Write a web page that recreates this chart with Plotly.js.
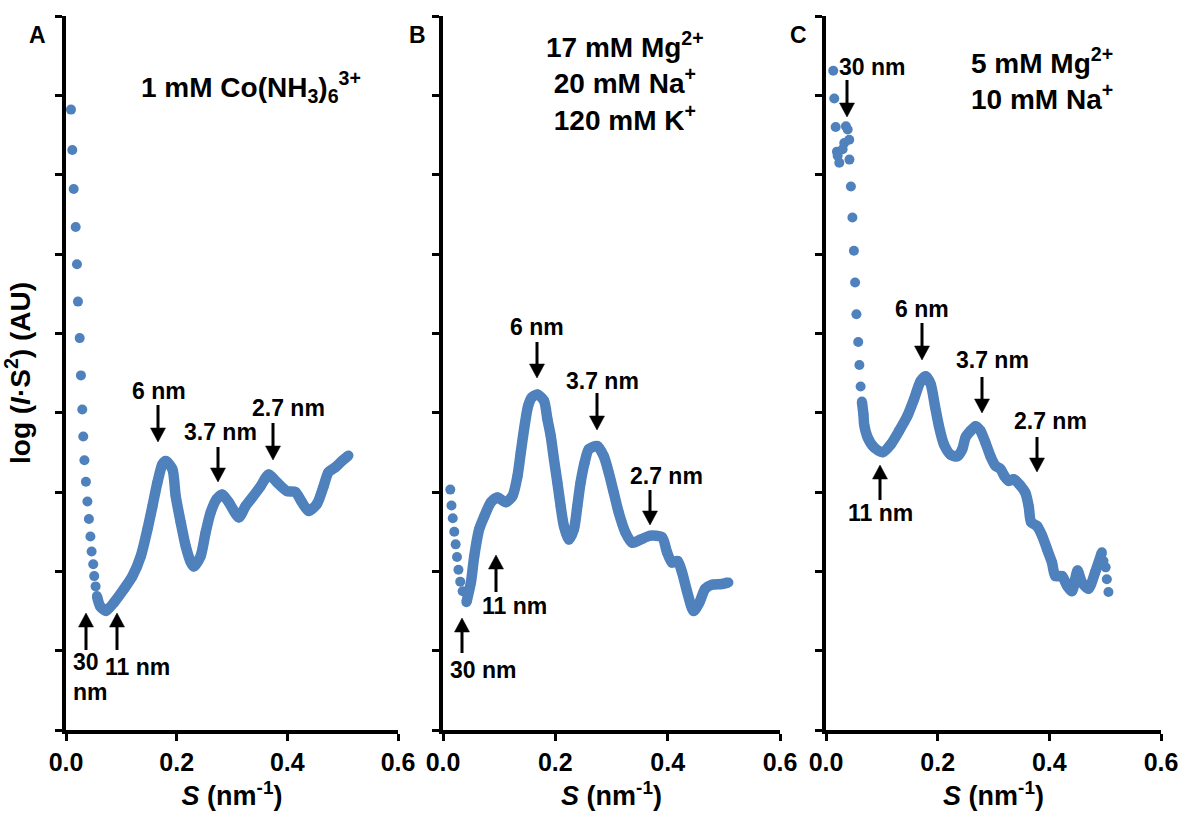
<!DOCTYPE html>
<html><head><meta charset="utf-8">
<script src="https://cdn.plot.ly/plotly-3.0.1.min.js"></script>
<style>html,body{margin:0;padding:0;background:#fff}#chart{width:1181px;height:817px}</style>
</head><body><div id="chart"></div>
<script>
// ---------- data (S in nm^-1, log(I*S^2) in arbitrary units) ----------
const xTickVals = [0, 0.2, 0.4, 0.6];
const xTickLabels = ['0.0', '0.2', '0.4', '0.6'];
const yTickVals = [0, 1, 2, 3, 4, 5, 6, 7, 8, 9];

// Panel A: 1 mM Co(NH3)6 3+
const aLowS = [0.009,0.0114,0.0139,0.0175,0.0198,0.0216,0.0247,0.0270,0.0294,0.0312,0.0333,0.0360,0.0387,0.0414,0.0441,0.0463,0.0492,0.0510,0.0535];
const aLowI = [7.82,7.31,6.82,6.34,5.87,5.40,4.94,4.47,4.04,3.70,3.40,3.13,2.88,2.66,2.44,2.25,2.09,1.94,1.81];
const aS = [0.0559,0.0618,0.0721,0.0870,0.1050,0.1202,0.1351,0.1472,0.1562,0.1652,0.1742,0.1802,0.1922,0.1982,0.2072,0.2162,0.2252,0.2312,0.2432,0.2523,0.2613,0.2721,0.2823,0.2942,0.3123,0.3243,0.3364,0.3514,0.3663,0.3814,0.3995,0.4144,0.4265,0.4384,0.4535,0.4654,0.4744,0.4865,0.4986,0.5105];
const aI = [1.69,1.56,1.50,1.61,1.78,1.94,2.19,2.53,2.82,3.12,3.35,3.39,3.29,2.95,2.62,2.32,2.12,2.06,2.19,2.49,2.74,2.91,2.97,2.87,2.68,2.82,2.93,3.07,3.22,3.12,3.01,3.00,2.87,2.76,2.85,3.07,3.25,3.31,3.39,3.46];

// Panel B: 17 mM Mg2+, 20 mM Na+, 120 mM K+
const bLowS = [0.0130,0.0151,0.0174,0.0201,0.0225,0.0249,0.0275,0.0307,0.0350];
const bLowI = [3.03,2.83,2.67,2.50,2.34,2.18,2.02,1.87,1.75];
const bS = [0.0417,0.0497,0.0556,0.0644,0.0733,0.0852,0.0971,0.1118,0.1237,0.1326,0.1385,0.1443,0.1514,0.1580,0.1681,0.1798,0.1858,0.1917,0.1976,0.2036,0.2095,0.2153,0.2242,0.2331,0.2391,0.2450,0.2521,0.2597,0.2746,0.2863,0.2952,0.3041,0.3129,0.3248,0.3367,0.3515,0.3692,0.3900,0.3989,0.4077,0.4177,0.4255,0.4344,0.4461,0.4567,0.4668,0.4787,0.4965,0.5082];
const bI = [1.61,1.86,2.19,2.53,2.69,2.87,2.93,2.87,2.95,3.20,3.50,3.79,4.08,4.19,4.23,4.15,3.92,3.71,3.41,3.12,2.82,2.57,2.40,2.53,2.82,3.12,3.37,3.54,3.58,3.45,3.24,2.99,2.74,2.49,2.36,2.40,2.45,2.43,2.24,2.11,2.13,1.99,1.75,1.50,1.61,1.78,1.83,1.84,1.86];

// Panel C: 5 mM Mg2+, 10 mM Na+
const cLowS = [0.0130,0.0148,0.0173,0.0196,0.0209,0.0238,0.0298,0.0327,0.0357,0.0388,0.0416,0.0420,0.0446,0.0473,0.0500,0.0521,0.0545,0.0577,0.0598,0.0620];
const cLowI = [8.31,7.96,7.60,7.29,7.24,7.15,7.32,7.40,7.61,7.57,7.44,7.19,6.85,6.46,6.04,5.64,5.24,4.89,4.60,4.33];
const cS = [0.0643,0.0670,0.0684,0.0745,0.0863,0.1012,0.1161,0.1309,0.1459,0.1577,0.1696,0.1786,0.1875,0.1952,0.2023,0.2112,0.2232,0.2352,0.2441,0.2500,0.2589,0.2679,0.2768,0.2857,0.2946,0.3036,0.3125,0.3196,0.3273,0.3363,0.3482,0.3571,0.3630,0.3673,0.3780,0.3870,0.3959,0.4048,0.4107,0.4227,0.4316,0.4405,0.4505,0.4584,0.4702,0.4821,0.4941];
const cI = [4.14,3.98,3.85,3.69,3.56,3.50,3.60,3.77,3.96,4.17,4.40,4.46,4.36,4.08,3.83,3.60,3.47,3.45,3.54,3.69,3.77,3.83,3.77,3.62,3.45,3.33,3.29,3.20,3.14,3.16,3.08,2.99,2.82,2.62,2.57,2.45,2.28,2.11,1.94,1.94,1.82,1.75,2.01,1.86,1.78,1.99,2.24];
const cEndS = [0.4970,0.5009,0.5030,0.5059];
const cEndI = [2.13,2.05,1.90,1.74];

// ---------- styling ----------
const FONT = 'Liberation Sans, Arial, Helvetica, sans-serif';
const BLUE = 'rgb(79,129,189)';
const W = 1181, H = 817;
const px = v => v / W, py = v => 1 - v / H;

function dots(xs, ys, xa, ya) {
  return {x: xs, y: ys, xaxis: xa, yaxis: ya, type: 'scatter', mode: 'markers',
    marker: {color: BLUE, size: 10}, hoverinfo: 'skip', showlegend: false, cliponaxis: false};
}
function band(xs, ys, xa, ya) {
  return {x: xs, y: ys, xaxis: xa, yaxis: ya, type: 'scatter', mode: 'lines+markers',
    line: {color: BLUE, width: 10.5, shape: 'spline', smoothing: 0.7},
    marker: {color: BLUE, size: 10}, hoverinfo: 'skip', showlegend: false, cliponaxis: false};
}

const data = [
  dots(aLowS, aLowI, 'x', 'y'), band(aS, aI, 'x', 'y'),
  dots(bLowS, bLowI, 'x2', 'y2'), band(bS, bI, 'x2', 'y2'),
  dots(cLowS, cLowI, 'x3', 'y3'), band(cS, cI, 'x3', 'y3'), dots(cEndS, cEndI, 'x3', 'y3')
];

const yDom = [(H - 730) / H, (H - 16) / H];
function xax(l, r, anchor) {
  return {domain: [px(l), px(r)], anchor: anchor, range: [0, 0.6],
    tickmode: 'array', tickvals: xTickVals, ticktext: xTickLabels,
    ticks: 'outside', ticklen: 7, tickwidth: 3, tickcolor: '#000',
    showline: true, linewidth: 4, linecolor: '#000', showgrid: false, zeroline: false,
    fixedrange: true, ticklabelstandoff: 0,
    tickfont: {family: FONT, size: 25, color: '#000', weight: 'bold'},
    title: {text: '<i>S</i> (nm<sup>-1</sup>)', standoff: 12,
      font: {family: FONT, size: 27, color: '#000', weight: 'bold'}}};
}
function yax(anchor, title) {
  const o = {domain: yDom, anchor: anchor, range: [0, 9],
    tickmode: 'array', tickvals: yTickVals, showticklabels: false,
    ticks: 'outside', ticklen: 7, tickwidth: 3, tickcolor: '#000',
    showline: true, linewidth: 4, linecolor: '#000', showgrid: false, zeroline: false,
    fixedrange: true};
  if (title) o.title = {text: title, standoff: 17,
    font: {family: FONT, size: 28, color: '#000', weight: 'bold'}};
  return o;
}

function label(text, x, y, size, opts) {
  return Object.assign({xref: 'paper', yref: 'paper', x: px(x), y: py(y), text: text,
    showarrow: false, xanchor: 'center', yanchor: 'middle',
    font: {family: FONT, size: size || 23, color: '#000', weight: 'bold'}}, opts || {});
}

// arrow shapes: shaft + filled triangular head (pixel geometry -> paper coords)
const shapes = [];
function arrow(x, yTail, yTip) {
  const dir = yTip > yTail ? 1 : -1;     // +1 pointing down
  const headL = 14, headW = 7.5;
  const yBase = yTip - dir * headL;
  shapes.push({type: 'line', xref: 'paper', yref: 'paper',
    x0: px(x), x1: px(x), y0: py(yTail), y1: py(yBase + dir * 1),
    line: {color: '#000', width: 3}});
  shapes.push({type: 'path', xref: 'paper', yref: 'paper',
    path: 'M' + px(x - headW) + ',' + py(yBase) + ' L' + px(x + headW) + ',' + py(yBase) +
          ' L' + px(x) + ',' + py(yTip) + ' Z',
    fillcolor: '#000', line: {color: '#000', width: 0.5}});
}
// panel A
arrow(158, 405, 442); arrow(218, 447, 482); arrow(273, 423, 460); arrow(86, 650, 613); arrow(117, 650, 613);
// panel B
arrow(537, 342, 378); arrow(597, 393, 430); arrow(650, 490, 525); arrow(496, 592, 555); arrow(462, 653, 618);
// panel C
arrow(847, 80, 117); arrow(922, 323, 360); arrow(982, 377, 413); arrow(1037, 437, 472); arrow(880, 500, 465);

const annotations = [
  // panel letters
  label('A', 38, 35, 23), label('B', 417, 35, 23), label('C', 798, 35, 23),
  // condition titles
  label('1 mM Co(NH<sub>3</sub>)<sub>6</sub><sup>3+</sup>', 251, 87, 28),
  label('17 mM Mg<sup>2+</sup><br>20 mM Na<sup>+</sup><br>120 mM K<sup>+</sup>', 625, 81, 28),
  label('5 mM Mg<sup>2+</sup><br>10 mM Na<sup>+</sup>', 1042, 79, 28),
  // panel A
  label('6 nm', 159, 391), label('3.7 nm', 220, 432), label('2.7 nm', 288, 408),
  label('30<br>nm', 71, 677, 23, {xanchor: 'left', align: 'left'}), label('11 nm', 137, 667),
  // panel B
  label('6 nm', 537, 327), label('3.7 nm', 602, 381), label('2.7 nm', 666, 476),
  label('11 nm', 514, 606), label('30 nm', 483, 670),
  // panel C
  label('30 nm', 872, 67), label('6 nm', 922, 309), label('3.7 nm', 992, 360),
  label('2.7 nm', 1050, 421), label('11 nm', 880, 513)
];

const layout = {
  width: W, height: H, margin: {l: 0, r: 0, t: 0, b: 0},
  paper_bgcolor: '#fff', plot_bgcolor: 'rgba(0,0,0,0)',
  font: {family: FONT, size: 23, color: '#000', weight: 'bold'},
  showlegend: false,
  xaxis: xax(66, 398, 'y'), yaxis: yax('x', 'log (<i>I</i>·S<sup>2</sup>) (AU)'),
  xaxis2: xax(443, 780, 'y2'), yaxis2: yax('x2'),
  xaxis3: xax(826, 1161, 'y3'), yaxis3: yax('x3'),
  annotations: annotations, shapes: shapes
};

Plotly.newPlot('chart', data, layout, {displayModeBar: false, staticPlot: true});
</script>
</body></html>
